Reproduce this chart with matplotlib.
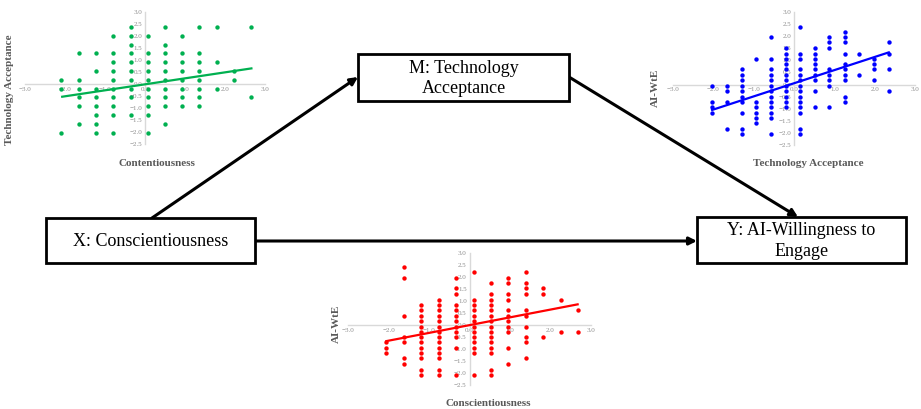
import numpy as np
import matplotlib.pyplot as plt
from matplotlib.patches import Rectangle

plt.rcParams['font.family'] = ['Liberation Serif', 'DejaVu Serif']

# ---- data ----
# green: Conscientiousness vs Technology Acceptance
green_x_levels = [-2.1, -1.65, -1.22, -0.79, -0.36, 0.07, 0.49, 0.92, 1.36, 1.79, 2.23, 2.66]
green_y_by_col = [
    [0.17, -0.19, -2.03],
    [1.28, 0.17, -0.19, -0.56, -0.92, -1.67],
    [1.28, 0.53, -0.19, -0.56, -0.92, -1.31, -1.67, -2.03],
    [1.98, 1.28, 0.92, 0.53, 0.17, -0.19, -0.56, -0.92, -1.31, -2.03],
    [2.37, 1.98, 1.63, 1.28, 0.92, 0.53, 0.17, -0.19, -0.56, -1.31],
    [1.98, 1.28, 0.92, 0.53, 0.17, -0.19, -0.56, -0.92, -1.31, -2.03],
    [2.37, 1.63, 1.28, 0.92, 0.53, 0.17, -0.19, -0.56, -0.92, -1.67],
    [1.98, 1.28, 0.92, 0.53, 0.17, -0.19, -0.56, -0.92],
    [2.37, 1.28, 0.92, 0.53, 0.17, -0.19, -0.56, -0.92],
    [2.37, 0.92, -0.19],
    [0.53, 0.17],
    [2.37, -0.56],
]
green_trend_x = [-2.07, 2.66]
green_trend_y = [-0.53, 0.65]

# blue: Technology Acceptance vs AI-WtE
blue_x_levels = [-2.03, -1.66, -1.30, -0.93, -0.56, -0.21, 0.16, 0.52, 0.88, 1.26, 1.61, 1.98, 2.35]
blue_y_by_col = [
    [-0.06, -0.72, -0.94, -1.16],
    [-0.06, -0.26, -0.72, -1.82],
    [0.64, 0.40, 0.17, -0.06, -0.26, -0.50, -0.72, -1.16, -1.82, -2.04],
    [1.05, -0.72, -0.94, -1.16, -1.38, -1.60],
    [1.95, 1.05, 0.64, 0.40, 0.17, -0.06, -0.26, -0.50, -0.72, -0.94, -1.16, -1.38, -2.04],
    [1.51, 1.27, 1.05, 0.84, 0.64, 0.40, 0.17, -0.06, -0.26, -0.50, -0.72, -0.94],
    [2.38, 1.27, 1.05, 0.64, 0.40, 0.17, -0.06, -0.26, -0.50, -0.72, -0.94, -1.16, -1.82, -2.04],
    [1.51, 1.27, 1.05, 0.84, 0.64, 0.40, 0.17, -0.26, -0.94],
    [1.95, 1.74, 1.51, 0.64, 0.40, 0.17, -0.06, -0.94],
    [2.17, 1.95, 1.74, 1.27, 0.84, 0.64, 0.40, 0.17, -0.50, -0.72],
    [1.27, 0.40],
    [1.05, 0.84, 0.64, 0.17],
    [1.74, 1.27, 0.64, -0.26],
]
blue_trend_x = [-2.03, 2.35]
blue_trend_y = [-1.05, 1.33]

# red: Conscientiousness vs AI-WtE
red_x_levels = [-2.05, -1.62, -1.19, -0.76, -0.33, 0.10, 0.53, 0.96, 1.39, 1.82, 2.25, 2.67]
red_y_by_col = [
    [-0.71, -0.94, -1.16],
    [2.40, 1.95, 0.38, -0.49, -0.71, -1.39, -1.63],
    [0.84, 0.63, 0.38, 0.15, -0.07, -0.28, -0.49, -0.71, -0.94, -1.16, -1.39, -1.88, -2.09],
    [1.04, 0.84, 0.63, 0.38, 0.15, -0.07, -0.28, -0.49, -0.71, -0.94, -1.16, -1.39, -1.88, -2.09],
    [1.95, 1.53, 1.28, 0.84, 0.63, 0.38, 0.15, -0.07, -0.28, -0.49, -0.94, -2.09],
    [2.19, 1.04, 0.84, 0.63, 0.38, 0.15, -0.07, -0.28, -0.49, -0.71, -0.94, -1.16, -2.09],
    [1.74, 1.28, 1.04, 0.84, 0.63, 0.38, 0.15, -0.07, -0.28, -0.49, -0.71, -0.94, -1.16, -1.88, -2.09],
    [1.95, 1.74, 1.28, 1.04, 0.63, 0.38, 0.15, -0.07, -0.28, -0.94, -1.63],
    [2.19, 1.74, 1.53, 1.28, 0.63, 0.38, -0.07, -0.49, -0.71, -1.39],
    [1.53, 1.28, -0.49],
    [1.04, -0.28],
    [0.63, -0.28],
]
red_trend_x = [-2.05, 2.67]
red_trend_y = [-0.67, 0.86]

W, H = 921, 409
fig = plt.figure(figsize=(W / 100, H / 100), dpi=100)

# background axes in pixel coordinates for the path diagram
ax = fig.add_axes([0, 0, 1, 1])
ax.set_xlim(0, W)
ax.set_ylim(H, 0)
ax.axis('off')

def box(x0, y0, x1, y1, text):
    ax.add_patch(Rectangle((x0, y0), x1 - x0, y1 - y0, facecolor='white',
                           edgecolor='black', lw=2, zorder=3))
    ax.text((x0 + x1) / 2, (y0 + y1) / 2 + 1, text, ha='center', va='center',
            fontsize=13, linespacing=1.25, zorder=4)

def arrow(start, end):
    ax.annotate('', xy=end, xytext=start,
                arrowprops=dict(arrowstyle='-|>', lw=2.2, color='black',
                                mutation_scale=11, shrinkA=0, shrinkB=0),
                zorder=2)

arrow((152, 218), (358, 77))
arrow((569, 77), (798, 217))
arrow((255, 241), (697, 241))

box(46, 218, 255, 263, 'X: Conscientiousness')
box(358, 54, 569, 101, 'M: Technology\nAcceptance')
box(697, 217, 906, 263, 'Y: AI-Willingness to\nEngage')

def scatter_panel(px0, px1, py_top, py_bot, x_levels, y_by_col, tx, ty, color):
    a = fig.add_axes([px0 / W, 1 - py_bot / H, (px1 - px0) / W, (py_bot - py_top) / H])
    a.set_facecolor('none')
    xs = np.concatenate([[xv] * len(col) for xv, col in zip(x_levels, y_by_col)])
    ys = np.concatenate([col for col in y_by_col])
    a.scatter(xs, ys, s=10, color=color, linewidths=0, zorder=3)
    a.plot(tx, ty, color=color, lw=1.6, zorder=4)
    a.set_xlim(-3, 3)
    a.set_ylim(-2.5, 3)
    for s in ['top', 'right']:
        a.spines[s].set_visible(False)
    a.spines['left'].set_position(('data', 0))
    a.spines['bottom'].set_position(('data', 0))
    for s in ['left', 'bottom']:
        a.spines[s].set_color('#d9d9d9')
        a.spines[s].set_linewidth(1)
    a.set_xticks(np.arange(-3, 3.1, 1))
    a.set_xticklabels([f'{v:.1f}'.replace('-', '\u2212') for v in np.arange(-3, 3.1, 1)])
    a.set_yticks(np.arange(-2.5, 3.1, 0.5))
    a.set_yticklabels([f'{v:.1f}'.replace('-', '\u2212') for v in np.arange(-2.5, 3.1, 0.5)])
    a.tick_params(length=0, labelsize=5, labelcolor='#8c8c8c', pad=2)
    return a

scatter_panel(25, 265, 12, 144, green_x_levels, green_y_by_col,
              green_trend_x, green_trend_y, '#00b050')
scatter_panel(673, 915, 12, 145, blue_x_levels, blue_y_by_col,
              blue_trend_x, blue_trend_y, '#0000ff')
scatter_panel(348, 591, 253, 385, red_x_levels, red_y_by_col,
              red_trend_x, red_trend_y, '#ff0000')

title_kw = dict(fontsize=8, fontweight='bold', color='#595959', ha='center', va='center')
ax.text(157, 163, 'Contentiousness', **title_kw)
ax.text(10, 90, 'Technology Acceptance', rotation=90, **title_kw)
ax.text(808, 164, 'Technology Acceptance', **title_kw)
ax.text(655, 88, 'AI-WtE', rotation=90, **title_kw)
ax.text(488, 404, 'Conscientiousness', **title_kw)
ax.text(336, 324, 'AI-WtE', rotation=90, **title_kw)

fig.savefig('out.png', dpi=100)
